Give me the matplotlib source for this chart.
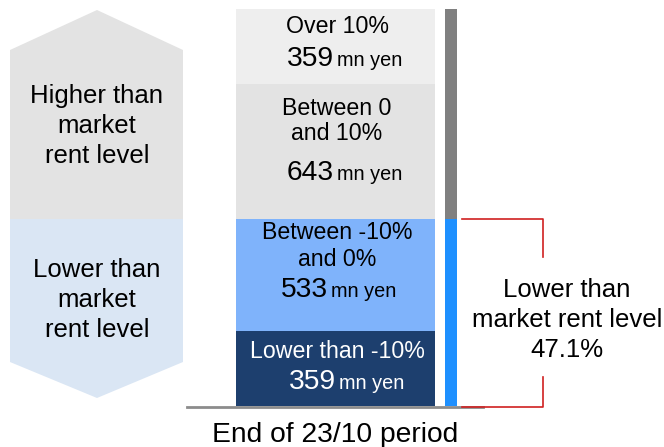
import matplotlib.pyplot as plt
from matplotlib.patches import Polygon

plt.rcParams['font.family'] = ['Liberation Sans', 'DejaVu Sans']

# Rent gap buckets at end of 23/10 period (mn yen), bottom to top
segments = ['Lower than -10%', 'Between -10%\nand 0%', 'Between 0\nand 10%', 'Over 10%']
values = [359, 533, 643, 359]
seg_colors = ['#1d3f6e', '#7fb3fb', '#e3e3e3', '#eeeeee']
seg_text = ['white', 'black', 'black', 'black']

period_label = 'End of 23/10 period'
lower_share_label = 'Lower than\nmarket rent level\n47.1%'

total = sum(values)
lower = values[0] + values[1]
higher = values[2] + values[3]

W, H = 664, 447
fig = plt.figure(figsize=(W / 100, H / 100), dpi=100)
ax = fig.add_axes([0, 0, 1, 1])

# x runs in pixels, y in mn yen; bar spans pixel rows 406 (zero) to 9 (total)
y0_px, top_px = 406, 9
k = total / (y0_px - top_px)
ax.set_xlim(0, W)
ax.set_ylim(-(H - y0_px) * k, y0_px * k)
ax.axis('off')


def py(p):
    return (y0_px - p) * k


# side chevrons: higher (up arrow) and lower (down arrow)
cx, xl, xr = 97, 10, 183
up = Polygon([(xl, lower), (xl, py(50)), (cx, py(10)), (xr, py(50)), (xr, lower)],
             closed=True, facecolor='#e3e3e3', edgecolor='none')
down = Polygon([(xl, lower), (xl, py(362)), (cx, py(398)), (xr, py(362)), (xr, lower)],
               closed=True, facecolor='#dae6f4', edgecolor='none')
ax.add_patch(up)
ax.add_patch(down)

for i, line in enumerate(['Higher than', 'market', 'rent level']):
    ax.text(cx, py(103 + 30 * i), line, ha='center', va='baseline', fontsize=18.5)
for i, line in enumerate(['Lower than', 'market', 'rent level']):
    ax.text(cx, py(277 + 30 * i), line, ha='center', va='baseline', fontsize=18.5)

# stacked bar
bottom = 0
for v, c in zip(values, seg_colors):
    ax.bar(335.5, v, bottom=bottom, width=199, color=c, zorder=2)
    bottom += v

# thin share bar: higher (gray) over lower (blue)
ax.bar(450.5, lower, width=12, color='#1e90ff', zorder=3)
ax.bar(450.5, higher, bottom=lower, width=12, color='#808080', zorder=3)

# axis baseline
ax.plot([187, 483], [py(407), py(407)], color='#8c8c8c', lw=2, zorder=2)

# segment labels: baselines of label lines, baseline of value, split x
layout = [
    ([358], 389, 336),
    ([239, 266], 297, 328),
    ([115, 140], 180, 334),
    ([33], 66, 334),
]
for seg, v, col, (lines_px, num_px, split) in zip(segments, values, seg_text, layout):
    for line, lp in zip(seg.split('\n'), lines_px):
        ax.text(337, py(lp), line, ha='center', va='baseline', fontsize=16.7,
                color=col, zorder=4)
    ax.text(split, py(num_px), f'{v}', ha='right', va='baseline', fontsize=20.3,
            color=col, zorder=4)
    ax.text(split + 3, py(num_px), 'mn yen', ha='left', va='baseline', fontsize=14.3,
            color=col, zorder=4)

# red bracket around the lower share
red = '#d02020'
ax.plot([462, 543, 543], [lower, lower, py(257)], color=red, lw=1.2)
ax.plot([462, 543, 543], [py(407), py(407), py(377)], color=red, lw=1.2)
for i, line in enumerate(lower_share_label.split('\n')):
    ax.text(567, py(297 + 30 * i), line, ha='center', va='baseline', fontsize=18.5)

ax.text(335, py(442), period_label, ha='center', va='baseline', fontsize=20.3)

fig.savefig('out.png', dpi=100)
